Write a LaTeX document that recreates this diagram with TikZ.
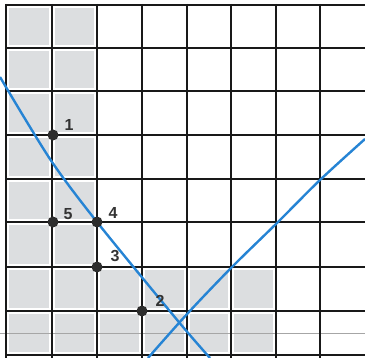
\documentclass[tikz,border=0pt]{standalone}
\usepackage{fontspec}
\setmainfont{Liberation Sans}
\definecolor{cellgray}{RGB}{220,222,224}
\definecolor{lineblue}{RGB}{38,132,212}
\definecolor{dotgray}{RGB}{45,45,45}
\tikzset{
  gridline/.style={line width=2.9pt, black!90},
  blueline/.style={line width=2.4pt, lineblue},
  dot/.style={circle, fill=dotgray, inner sep=0pt, minimum size=11pt},
  numlabel/.style={font=\fontsize{16}{16}\selectfont\bfseries, text=black!80, inner sep=0pt}
}
\begin{document}
\begin{tikzpicture}[x=1pt,y=-1pt]
\useasboundingbox (0,0) rectangle (365,358);
\fill[white] (0,0) rectangle (365,358);
% shaded cells
\foreach \xa/\xb in {6/52,52/97}
  \foreach \ya/\yb in {5/48,48/91,91/135,135/179,179/222,222/267,267/311,311/355}
    \fill[cellgray] (\xa+3,\ya+3) rectangle (\xb-3,\yb-3);
\foreach \xa/\xb in {97/142,142/187,187/231,231/276}
  \foreach \ya/\yb in {267/311,311/355}
    \fill[cellgray] (\xa+3,\ya+3) rectangle (\xb-3,\yb-3);
% faint ruled line
\draw[line width=0.8pt, black!35] (0,333) -- (365,333);
% grid
\foreach \x in {6,52,97,142,187,231,276,320}
  \draw[gridline] (\x,4) -- (\x,358);
\foreach \y in {5,48,91,135,179,222,267,311,355}
  \draw[gridline] (5,\y) -- (365,\y);
% blue lines
\draw[blueline] plot[smooth, tension=0.5] coordinates {(0,77) (50,159) (97,222) (178,321) (210,358)};
\draw[blueline] plot[smooth, tension=0.5] coordinates {(148,358) (188,313) (232,267) (277,223) (320,180) (365,139)};
% points
\node[dot] (p1) at (53,135) {};
\node[dot] (p5) at (53,222) {};
\node[dot] (p4) at (97,222) {};
\node[dot] (p3) at (97,267) {};
\node[dot] (p2) at (142,311) {};
\node[numlabel] (l1) at (69,125) {1};
\node[numlabel] (l5) at (68,214) {5};
\node[numlabel] (l4) at (113,213) {4};
\node[numlabel] (l3) at (115,256) {3};
\node[numlabel] (l2) at (160,301) {2};
\end{tikzpicture}
\end{document}
